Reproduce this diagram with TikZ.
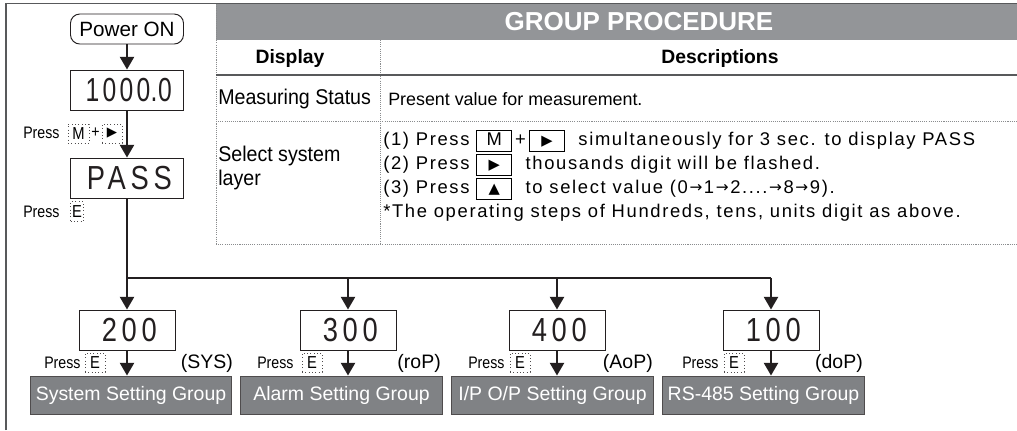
\documentclass[tikz,border=0pt]{standalone}
\usepackage{fontspec}
\setmainfont{Liberation Sans}
\newfontfamily\narrowfont{Liberation Sans}[FakeStretch=0.85]
\newfontfamily\cellfont{Liberation Sans}[FakeStretch=0.92]
\newfontfamily\spacedfont{Liberation Sans}[LetterSpace=9]
\newfontfamily\segfont{Liberation Sans}[FakeStretch=0.82, LetterSpace=14]
\newfontfamily\segnarrow{Liberation Sans}[FakeStretch=0.74, LetterSpace=10]
\newfontfamily\symfont{DejaVu Sans}
\usetikzlibrary{arrows.meta}
\definecolor{ink}{HTML}{231F20}
\definecolor{hdrgray}{HTML}{939598}
\definecolor{grpgray}{HTML}{808285}
\definecolor{framegray}{HTML}{58595B}
\definecolor{dotgray}{HTML}{8A8C8E}
\newcommand\kbox[1]{{\fboxsep=0pt\fboxrule=0.7pt\fbox{\makebox[25.5pt]{\rule[-4pt]{0pt}{15pt}#1}}}}
\newcommand\sarr{\kern1.2pt\raisebox{0.6pt}{\symfont\fontsize{11.5}{11.5}\selectfont →}\kern1.2pt}
\newcommand\segtxt[1]{\hspace{0.14em}#1}
\tikzset{
  arr/.style={draw=ink, line width=1.7pt, -{Triangle[length=9.5pt,width=10.5pt]}},
  wire/.style={draw=ink, line width=1.7pt},
  tbl/.style={draw=dotgray, line width=0.6pt, dash pattern=on 0.8pt off 0.8pt},
  solidrule/.style={draw=framegray, line width=1.1pt},
  disp/.style={draw=ink, line width=0.7pt, inner sep=0pt, minimum height=30pt, text=ink, font=\segfont\fontsize{25}{25}\selectfont},
  grp/.style={draw=ink!80, line width=0.7pt, fill=grpgray, text=white, inner sep=0pt, minimum width=151pt, minimum height=28.5pt, font=\fontsize{14.6}{16}\selectfont},
  dkey/.style={draw=ink!80, dotted, line width=0.5pt, inner sep=0pt, font=\narrowfont\fontsize{13}{13}\selectfont},
  presslbl/.style={anchor=west, inner sep=0pt, font=\narrowfont\fontsize{12.5}{13}\selectfont},
  tag/.style={anchor=east, inner sep=0pt, font=\fontsize{14.6}{16}\selectfont},
  desc/.style={anchor=west, inner sep=0pt, font=\spacedfont\fontsize{13.8}{15}\selectfont},
  cell/.style={anchor=west, inner sep=0pt, align=left, font=\cellfont\fontsize{16}{17.5}\selectfont},
  colhead/.style={inner sep=0pt, font=\bfseries\fontsize{14.5}{16}\selectfont}
}
\begin{document}
\begin{tikzpicture}[x=0.75pt,y=-0.75pt]
\useasboundingbox (0,0) rectangle (1017,430);
\fill[white] (0,0) rectangle (1017,430);
% outer frame
\draw[solidrule] (6,430) -- (6,3.5) -- (1017,3.5);
% table
\fill[hdrgray] (216,4) rectangle (1017,40);
\draw[tbl] (216,4) -- (216,244);
\draw[tbl] (380,40) -- (380,244);
\draw[tbl] (216,121) -- (1017,121);
\draw[tbl] (216,244) -- (1017,244);
\draw[solidrule] (216,75) -- (1017,75);
\node[text=white, inner sep=0pt, font=\bfseries\fontsize{19.5}{22}\selectfont] (hdr) at (639,22) {GROUP PROCEDURE};
\node[colhead] (hdisp) at (290,58) {Display};
\node[colhead] (hdesc) at (720,58) {Descriptions};
\node[cell] (ms) at (218,99) {Measuring Status};
\node[anchor=west, inner sep=0pt, font=\fontsize{13.4}{15}\selectfont] (pv) at (388,99) {Present value for measurement.};
\node[cell] (sel) at (218,168) {Select system\\layer};
\node[desc] (l1) at (383,141) {(1) Press \kbox{M}\,+\,\kbox{\symfont\fontsize{11}{11}\selectfont ▶}\ \ simultaneously for 3 sec. to display PASS};
\node[desc] (l2) at (383,165) {(2) Press \kbox{\symfont\fontsize{11}{11}\selectfont ▶}\ \ thousands digit will be flashed.};
\node[desc] (l3) at (383,189) {(3) Press \kbox{\symfont\fontsize{11}{11}\selectfont ▲}\ \ to select value (0\sarr1\sarr2....\sarr8\sarr9).};
\node[desc] (l4) at (383,213) {*The operating steps of Hundreds, tens, units digit as above.};
% left flow
\node[draw=ink, line width=0.7pt, rounded corners=7pt, minimum width=84.75pt, minimum height=22.5pt, inner sep=0pt, font=\fontsize{15.5}{16}\selectfont] (power) at (127,29) {Power ON};
\node[disp, minimum width=84.75pt, font=\segnarrow\fontsize{25}{25}\selectfont] (d1000) at (127,90) {\hspace{0.1em}1000\kern0.2pt.\kern0.4pt0};
\node[disp, minimum width=84.75pt] (dpass) at (127,178) {\segtxt{PASS}};
\draw[arr] (power.south) -- (d1000.north);
\draw[arr] (d1000.south) -- (dpass.north);
\node[presslbl] (pm) at (23,133) {Press};
\node[dkey, minimum width=15.75pt, minimum height=14.25pt] (km) at (78.5,133.5) {M};
\node[inner sep=0pt, font=\narrowfont\fontsize{12.5}{13}\selectfont] (plus) at (95.5,133) {+};
\node[dkey, minimum width=15pt, minimum height=14.25pt] (kr) at (112,133.5) {\symfont\fontsize{10}{10}\selectfont ▶};
\node[presslbl] (pe) at (23,212) {Press};
\node[dkey, minimum width=9.5pt, minimum height=15pt] (ke) at (77,211.5) {E};
% bus
\coordinate (b1) at (127,278);
\coordinate (b2) at (348,278);
\coordinate (b3) at (557,278);
\coordinate (b4) at (771,278);
\node[disp, minimum width=72pt] (d200) at (127,330) {\segtxt{200}};
\node[disp, minimum width=72pt] (d300) at (348,330) {\segtxt{300}};
\node[disp, minimum width=72pt] (d400) at (557,330) {\segtxt{400}};
\node[disp, minimum width=72pt] (d100) at (771,330) {\segtxt{100}};
\draw[wire] (dpass.south) -- (b1) -- (b4);
\draw[arr] (b1) -- (d200.north);
\draw[arr] (b2) -- (d300.north);
\draw[arr] (b3) -- (d400.north);
\draw[arr] (b4) -- (d100.north);
\node[grp] (g1) at (131,395) {System Setting Group};
\node[grp] (g2) at (341.5,395) {Alarm Setting Group};
\node[grp] (g3) at (552.5,395) {I/P O/P Setting Group};
\node[grp] (g4) at (763.5,395) {RS-485 Setting Group};
\draw[arr] (d200.south) -- (d200.south |- g1.north);
\draw[arr] (d300.south) -- (d300.south |- g2.north);
\draw[arr] (d400.south) -- (d400.south |- g3.north);
\draw[arr] (d100.south) -- (d100.south |- g4.north);
\node[presslbl] (p1) at (44,363) {Press};
\node[presslbl] (p2) at (257,363) {Press};
\node[presslbl] (p3) at (468,363) {Press};
\node[presslbl] (p4) at (682,363) {Press};
\node[dkey, minimum width=15pt, minimum height=14.25pt] (e1) at (95,362.5) {E};
\node[dkey, minimum width=15pt, minimum height=14.25pt] (e2) at (312,362.5) {E};
\node[dkey, minimum width=15pt, minimum height=14.25pt] (e3) at (520,362.5) {E};
\node[dkey, minimum width=15pt, minimum height=14.25pt] (e4) at (734,362.5) {E};
\node[tag] (t1) at (233,363) {(SYS)};
\node[tag] (t2) at (441,363) {(roP)};
\node[tag] (t3) at (653,363) {(AoP)};
\node[tag] (t4) at (863,363) {(doP)};
\end{tikzpicture}
\end{document}
